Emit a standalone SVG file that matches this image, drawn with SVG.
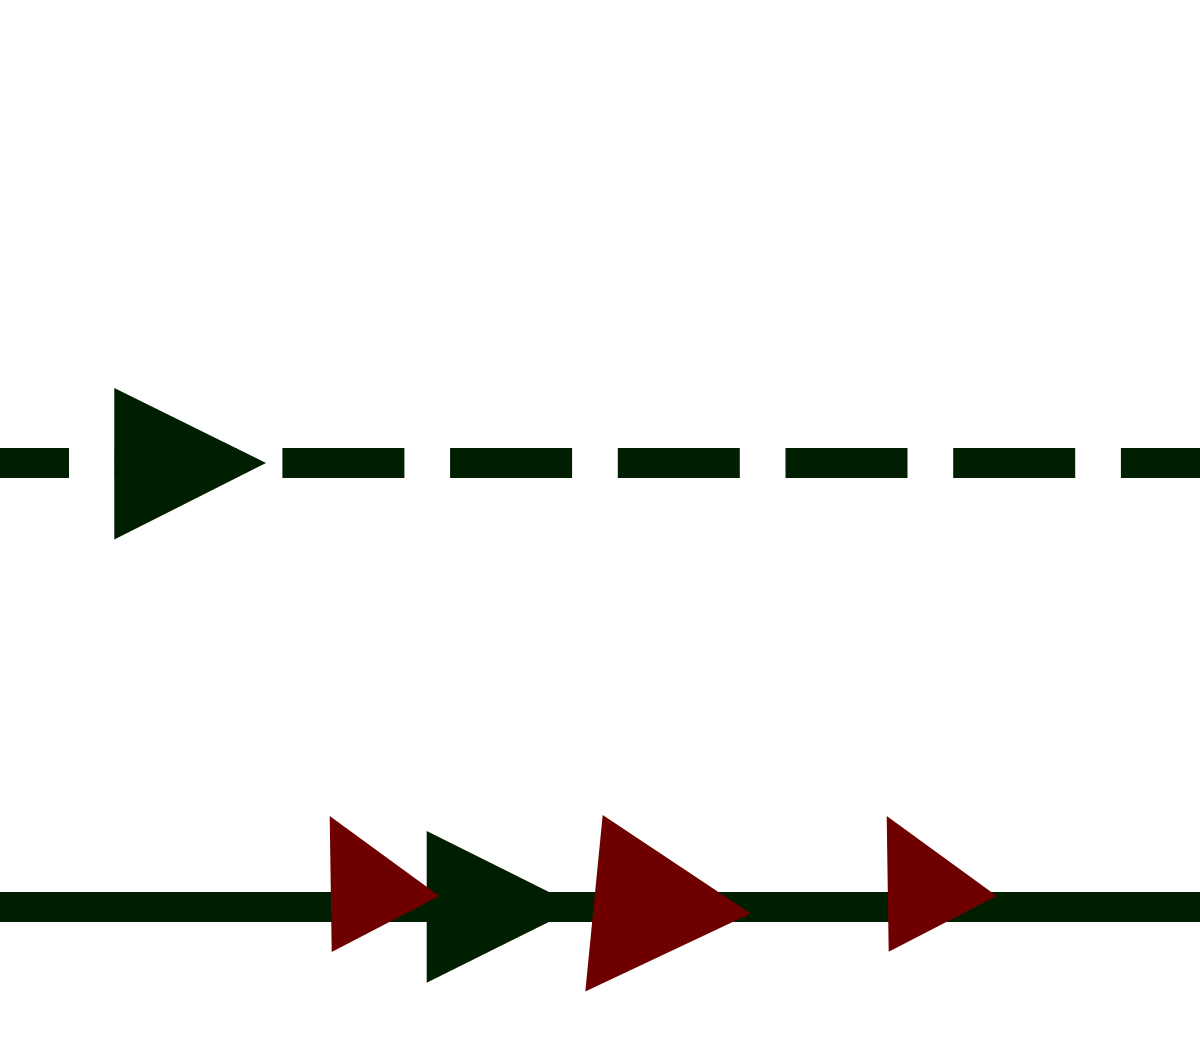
<svg xmlns="http://www.w3.org/2000/svg" width="1200" height="1040" viewBox="0 0 1200 1040">
<style>
.ln{stroke:#001f00;stroke-width:30;fill:none}
.g{fill:#001f00}
.r{fill:#6e0000}
</style>
<rect width="1200" height="1040" fill="#ffffff"/>
<g id="connectors">
<line class="ln" x1="0" y1="463" x2="1200" y2="463" stroke-dasharray="122 45.7" stroke-dashoffset="53"/>
<line class="ln" x1="0" y1="907" x2="1200" y2="907"/>
</g>
<g id="arrow-top">
<polygon class="g" points="114.3,388 266,463 114.3,539.5"/>
</g>
<g id="arrow-green-bottom">
<polygon class="g" points="426.7,831 579,907 426.7,982.7"/>
</g>
<g id="arrow-red-1">
<polygon class="r" points="329.7,816 439.3,896 331.7,952"/>
</g>
<g id="arrow-red-big">
<polygon class="r" points="602.7,815 750.7,913.5 585.3,991.5"/>
</g>
<g id="arrow-red-2">
<polygon class="r" points="886.7,816 996.7,896 888.7,951.7"/>
</g>
</svg>
